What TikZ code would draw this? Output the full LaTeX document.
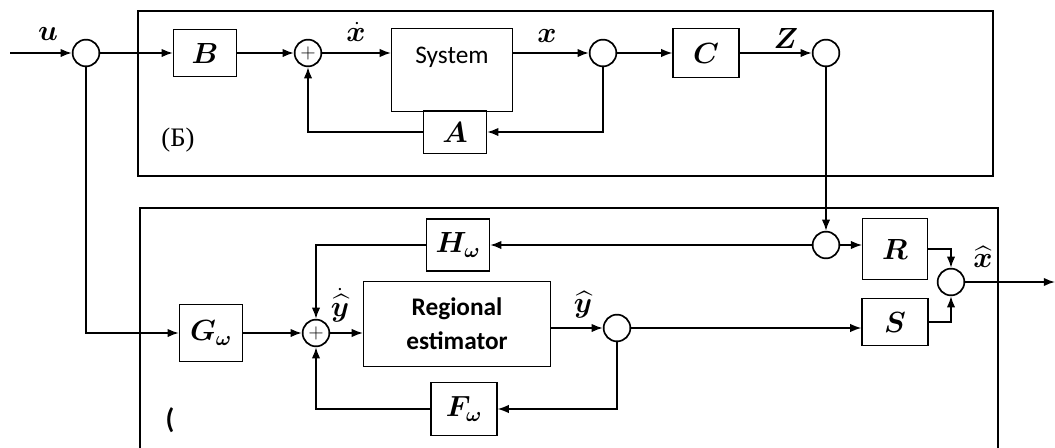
\documentclass[tikz,border=0pt]{standalone}
\usepackage{amsmath,bm}
\usepackage{fontspec}
\newfontfamily\sysfont{Carlito}
\newfontfamily\cyrfont{Liberation Serif}
\usetikzlibrary{positioning, arrows.meta, calc}

\begin{document}
\begin{tikzpicture}[x=0.025cm, y=-0.025cm]
	\tikzset{
		blk/.style={draw, line width=0.8pt, inner sep=1pt, font=\fontsize{22}{26}\selectfont},
		junc/.style={circle, draw, line width=1.2pt, minimum size=19pt, inner sep=0pt},
		sumj/.style={junc, font=\Large},
		sig/.style={line width=1.1pt, -{Latex[length=8pt, width=6pt]}},
		lbl/.style={inner sep=0pt, font=\fontsize{21}{25}\selectfont},
		frame/.style={line width=1.1pt}
	}
	\useasboundingbox (0,0) rectangle (1055,448);
	% frames
	\draw[frame] (138,11) rectangle (993,176);
	\draw[frame] (140,450) -- (140,208) -- (998,208) -- (998,450);
	% upper part
	\coordinate (uin) at (10,53);
	\node[junc] (cu) at (86,53) {};
	\node[blk, minimum width=45pt, minimum height=34pt] (B) at (205,53) {$\bm{B}$};
	\node[sumj] (p1) at (308,53) {$+$};
	\node[blk, minimum width=86pt, minimum height=59pt] (sys) at (452,70) {};
	\node[font=\sysfont\fontsize{18}{21}\selectfont] (systxt) at (452,57) {System};
	\node[junc] (cx) at (603,53) {};
	\node[blk, minimum width=47pt, minimum height=35pt] (C) at (706,53) {$\bm{C}$};
	\node[junc] (cz) at (826,53) {};
	\node[blk, minimum width=45pt, minimum height=30pt] (A) at (455,132) {$\bm{A}$};
	% lower part
	\node[blk, minimum width=45pt, minimum height=41pt] (G) at (211,333) {$\bm{G}_{\bm{\omega}}$};
	\node[sumj] (p2) at (316,333) {$+$};
	\node[blk, minimum width=133pt, minimum height=60pt, align=center,
		font=\sysfont\bfseries\fontsize{18}{24}\selectfont] (reg) at (457,324) {Regional\\estimator};
	\node[junc] (cy) at (617,328) {};
	\node[blk, minimum width=45pt, minimum height=37pt] (H) at (458,245) {$\bm{H}_{\bm{\omega}}$};
	\node[blk, minimum width=47pt, minimum height=38pt] (F) at (464,409) {$\bm{F}_{\bm{\omega}}$};
	\node[junc] (cr) at (826,245) {};
	\node[blk, minimum width=46pt, minimum height=43pt] (R) at (895,249) {$\bm{R}$};
	\node[blk, minimum width=47pt, minimum height=34pt] (S) at (895,322) {$\bm{S}$};
	\node[junc] (co) at (951,282) {};
	\coordinate (xout) at (1055,282);
	% labels
	\node[lbl] (lu) at (48,34) {$\bm{u}$};
	\node[lbl] (lxd) at (356,32) {$\dot{\bm{x}}$};
	\node[lbl] (lx) at (547,36) {$\bm{x}$};
	\node[lbl] (lz) at (786,38) {$\bm{Z}$};
	\node[lbl] (lyd) at (340,305) {$\dot{\widehat{\bm{y}}}$};
	\node[lbl] (lyh) at (583,305) {$\widehat{\bm{y}}$};
	\node[lbl] (lxh) at (983,257) {$\widehat{\bm{x}}$};
	\node[font=\cyrfont\fontsize{19}{22}\selectfont] (lb) at (178,140) {(Б)};
	\node[font=\sysfont\bfseries\fontsize{20}{24}\selectfont] (lp) at (170,420) {(};
	% connectors, upper part
	\draw[sig] (uin) -- (cu);
	\draw[sig] (cu) -- (B);
	\draw[sig] (B) -- (p1);
	\draw[sig] (p1) -- (p1 -| sys.west);
	\draw[sig] (cx -| sys.east) -- (cx);
	\draw[sig] (cx) -- (C);
	\draw[sig] (C) -- (cz);
	\draw[sig] (cx) |- (A.east);
	\draw[sig] (A.west) -| (p1);
	% connectors, lower part
	\draw[sig] (cu) |- (G.west);
	\draw[sig] (G) -- (p2);
	\draw[sig] (p2) -- (p2 -| reg.west);
	\draw[sig] (cy -| reg.east) -- (cy);
	\draw[sig] (cy) |- (F.east);
	\draw[sig] (F.west) -| (p2);
	\draw[sig] (cz) -- (cr);
	\draw[sig] (cr) -- (H.east);
	\draw[sig] (H.west) -| (p2);
	\draw[sig] (cr) -- (cr -| R.west);
	\draw[sig] (cy) -- (cy -| S.west);
	\draw[sig] (R.east) -| (co);
	\draw[sig] (S.east) -| (co);
	\draw[sig] (co) -- (xout);
\end{tikzpicture}
\end{document}
